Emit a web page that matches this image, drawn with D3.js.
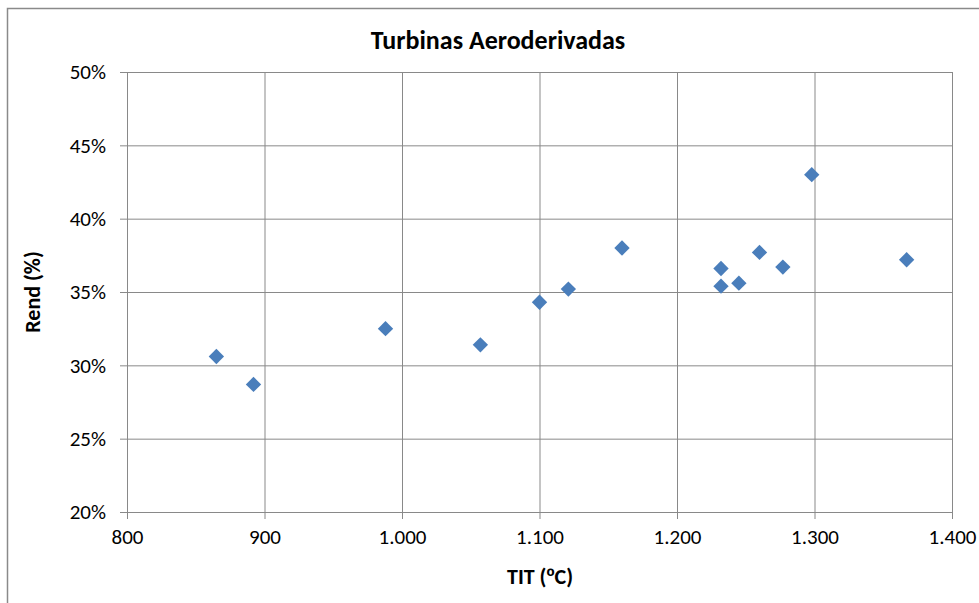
<!DOCTYPE html>
<html>
<head>
<meta charset="utf-8">
<script src="https://cdn.jsdelivr.net/npm/d3@7"></script>
<style>
  html, body { margin: 0; padding: 0; background: #fff; }
  svg { display: block; }
</style>
</head>
<body>
<svg id="chart" width="979" height="603"></svg>
<script>
// Turbine inlet temperature (ºC) vs. efficiency (%) for aeroderivative gas turbines
const tit  = [865, 892, 988, 1057, 1100, 1121, 1160, 1232, 1232, 1245, 1260, 1277, 1298, 1367];
const rend = [30.6, 28.7, 32.5, 31.4, 34.3, 35.2, 38.0, 36.6, 35.4, 35.6, 37.7, 36.7, 43.0, 37.2];
const xTicks = [800, 900, 1000, 1100, 1200, 1300, 1400];
const yTicks = [20, 25, 30, 35, 40, 45, 50];

const svg = d3.select("#chart");
const font = "Carlito, 'Open Sans', 'Liberation Sans', sans-serif";
const gridColor = "#898989";

// outer chart frame
svg.append("rect")
  .attr("x", 7.5).attr("y", 8.5)
  .attr("width", 1000).attr("height", 700)
  .attr("fill", "#fff").attr("stroke", "#8a8a8a").attr("stroke-width", 1.5);

const plot = { left: 127, right: 952, top: 72, bottom: 512 };

const x = d3.scaleLinear().domain([800, 1400]).range([plot.left, plot.right]);
const y = d3.scaleLinear().domain([20, 50]).range([plot.bottom, plot.top]);

const fmtX = d3.formatLocale({ decimal: ",", thousands: ".", grouping: [3], currency: ["", ""] }).format(",d");

// vertical gridlines + ticks
const xAxis = d3.axisBottom(x).tickValues(xTicks).tickSize(-(plot.bottom - plot.top)).tickPadding(12)
  .tickFormat(fmtX);
const gx = svg.append("g").attr("transform", `translate(0,${plot.bottom})`).call(xAxis);
gx.select(".domain").remove();
gx.selectAll(".tick line").attr("stroke", gridColor).attr("y1", 7);
gx.selectAll(".tick text")
  .attr("font-family", font).attr("font-size", 21).attr("fill", "#000").attr("dy", "0.95em");

// horizontal gridlines + ticks
const yAxis = d3.axisLeft(y).tickValues(yTicks).tickSize(-(plot.right - plot.left)).tickPadding(21)
  .tickFormat(d => d + "%");
const gy = svg.append("g").attr("transform", `translate(${plot.left},0)`).call(yAxis);
gy.select(".domain").remove();
gy.selectAll(".tick line").attr("stroke", gridColor).attr("x1", -7);
gy.selectAll(".tick text")
  .attr("font-family", font).attr("font-size", 21).attr("fill", "#000");

// data markers (diamonds)
const diamond = d3.symbol().type(d3.symbolDiamond2).size(150);
svg.append("g").selectAll("path")
  .data(tit.map((t, i) => [t, rend[i]]))
  .join("path")
  .attr("d", diamond)
  .attr("transform", d => `translate(${x(d[0])},${y(d[1])})`)
  .attr("fill", "#4a7ebb");

// title and axis titles
svg.append("text")
  .attr("x", 498).attr("y", 49)
  .attr("text-anchor", "middle")
  .attr("font-family", font).attr("font-size", 26).attr("font-weight", "bold")
  .text("Turbinas Aeroderivadas");

const xTitle = svg.append("text")
  .attr("x", 540).attr("y", 584)
  .attr("text-anchor", "middle")
  .attr("font-family", font).attr("font-size", 22).attr("font-weight", "bold");
xTitle.append("tspan").text("TIT (");
xTitle.append("tspan").attr("font-family", "'Liberation Sans', sans-serif").attr("font-size", 22).text("º");
xTitle.append("tspan").text("C)");

svg.append("text")
  .attr("transform", `translate(40,${(plot.top + plot.bottom) / 2}) rotate(-90)`)
  .attr("text-anchor", "middle")
  .attr("font-family", font).attr("font-size", 22).attr("font-weight", "bold")
  .text("Rend (%)");
</script>
</body>
</html>
